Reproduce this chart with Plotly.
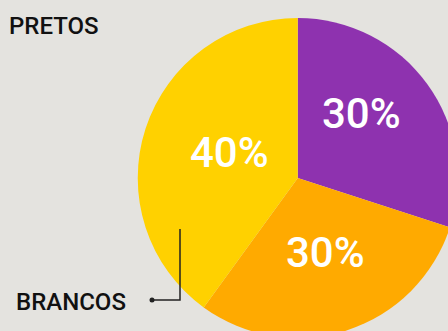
import plotly.graph_objects as go

labels = ["Outros", "Pardos", "Brancos"]
values = [30, 30, 40]
colors = ["#8e32af", "#ffaa00", "#ffd100"]
text_labels = ["30%", "30%", "40%"]
text_pos = [(361, 113), (325.5, 252), (230, 152.5)]

W, H = 458, 338
BG = "#e4e3df"

fig = go.Figure(go.Pie(
    labels=labels, values=values, sort=False, direction="clockwise", rotation=0,
    marker=dict(colors=colors, line=dict(width=0)),
    textinfo="none",
    domain=dict(x=[137.5 / W, 1], y=[0, 1 - 18 / H]),
    showlegend=False, hoverinfo="skip",
))

def px(x):
    return x / W

def py(y):
    return 1 - y / H

ann = [
    dict(text="PRETOS", x=px(7), y=py(26), xref="paper", yref="paper",
         xanchor="left", yanchor="middle", showarrow=False,
         font=dict(family="Roboto", size=24, color="#111111", weight=500)),
    dict(text="BRANCOS", x=px(14), y=py(302), xref="paper", yref="paper",
         xanchor="left", yanchor="middle", showarrow=False,
         font=dict(family="Roboto", size=24, color="#111111", weight=500)),
]
for t, (x, y) in zip(text_labels, text_pos):
    ann.append(dict(text=t, x=px(x), y=py(y), xref="paper", yref="paper",
                    xanchor="center", yanchor="middle", showarrow=False,
                    font=dict(family="Roboto", size=42, color="white", weight=500)))

fig.update_layout(
    width=W, height=H, margin=dict(l=0, r=0, t=0, b=0),
    paper_bgcolor=BG, plot_bgcolor=BG,
    annotations=ann,
    shapes=[
        dict(type="path", xref="paper", yref="paper",
             path=f"M {px(180)} {py(229)} L {px(180)} {py(300)} L {px(152)} {py(300)}",
             line=dict(color="#222222", width=1.5)),
        dict(type="circle", xref="paper", yref="paper",
             x0=px(149.5), x1=px(154.5), y0=py(297.5), y1=py(302.5),
             fillcolor="#222222", line=dict(width=0)),
    ],
)

fig.write_html("out.html", config=dict(displayModeBar=False),
               post_script="document.body.style.overflow='hidden';document.documentElement.style.overflow='hidden';document.body.style.margin='0';")
